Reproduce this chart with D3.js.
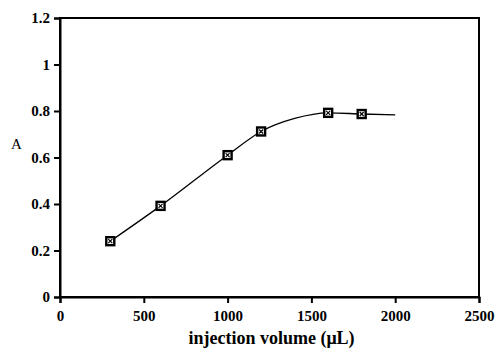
<!DOCTYPE html>
<html>
<head>
<meta charset="utf-8">
<script src="https://cdn.jsdelivr.net/npm/d3@7"></script>
<style>
  body { margin: 0; background: #fff; }
  text { font-family: "Liberation Serif", "DejaVu Serif", serif; font-weight: bold; fill: #000; }
</style>
</head>
<body>
<div id="chart"></div>
<script>
// measured points
const volumes = [300, 600, 1000, 1200, 1600, 1800];
const absorb = [0.24, 0.392, 0.61, 0.712, 0.792, 0.787];

// fitted curve
const fitX = [300, 600, 1000, 1200, 1400, 1600, 1800, 2000];
const fitY = [0.24, 0.392, 0.61, 0.712, 0.768, 0.792, 0.787, 0.783];

const xTicks = [0, 500, 1000, 1500, 2000, 2500];
const yTicks = [0, 0.2, 0.4, 0.6, 0.8, 1, 1.2];

const W = 495, H = 349;
const margin = {top: 18, right: 16, bottom: 52, left: 60};
const width = W - margin.left - margin.right;
const height = H - margin.top - margin.bottom;

const svg = d3.select("#chart").append("svg")
    .attr("width", W).attr("height", H);
const g = svg.append("g").attr("transform", `translate(${margin.left},${margin.top})`);

const x = d3.scaleLinear().domain([0, 2500]).range([0, width]);
const y = d3.scaleLinear().domain([0, 1.2]).range([height, 0]);

// frame
g.append("rect").attr("width", width).attr("height", height)
    .attr("fill", "none").attr("stroke", "#000").attr("stroke-width", 2);

const xAxis = g.append("g").attr("transform", `translate(0,${height})`)
    .call(d3.axisBottom(x).tickValues(xTicks).tickSize(6).tickPadding(7).tickFormat(d3.format("d")));
const yAxis = g.append("g")
    .call(d3.axisLeft(y).tickValues(yTicks).tickSize(6).tickPadding(4).tickFormat(d => d3.format("")(+d.toFixed(1))));

[xAxis, yAxis].forEach(a => {
    a.select(".domain").attr("stroke-width", 2);
    a.selectAll(".tick line").attr("stroke-width", 2);
    a.selectAll("text").style("font-size", "15px");
});

// labels
g.append("text").attr("x", width / 2 + 2).attr("y", height + 47)
    .attr("text-anchor", "middle").style("font-size", "18px")
    .text("injection volume (\u03bcL)");
g.append("text").attr("x", -43.5).attr("y", 131)
    .attr("text-anchor", "middle").style("font-size", "15px").style("font-weight", "normal")
    .text("A");

// fit curve
const line = d3.line().x((d, i) => x(fitX[i])).y(d => y(d)).curve(d3.curveMonotoneX);
g.append("path").datum(fitY).attr("d", line)
    .attr("fill", "none").attr("stroke", "#000").attr("stroke-width", 1.3);

// markers: square with x inside
const pts = g.selectAll(".pt").data(volumes).enter().append("g")
    .attr("transform", (d, i) => `translate(${x(d)},${y(absorb[i])})`);
pts.append("rect").attr("x", -4).attr("y", -4).attr("width", 8).attr("height", 8)
    .attr("fill", "#fff").attr("stroke", "#000").attr("stroke-width", 2.4);
pts.append("path").attr("d", "M-2,-2L2,2M-2,2L2,-2")
    .attr("stroke", "#000").attr("stroke-width", 1.2);
</script>
</body>
</html>
